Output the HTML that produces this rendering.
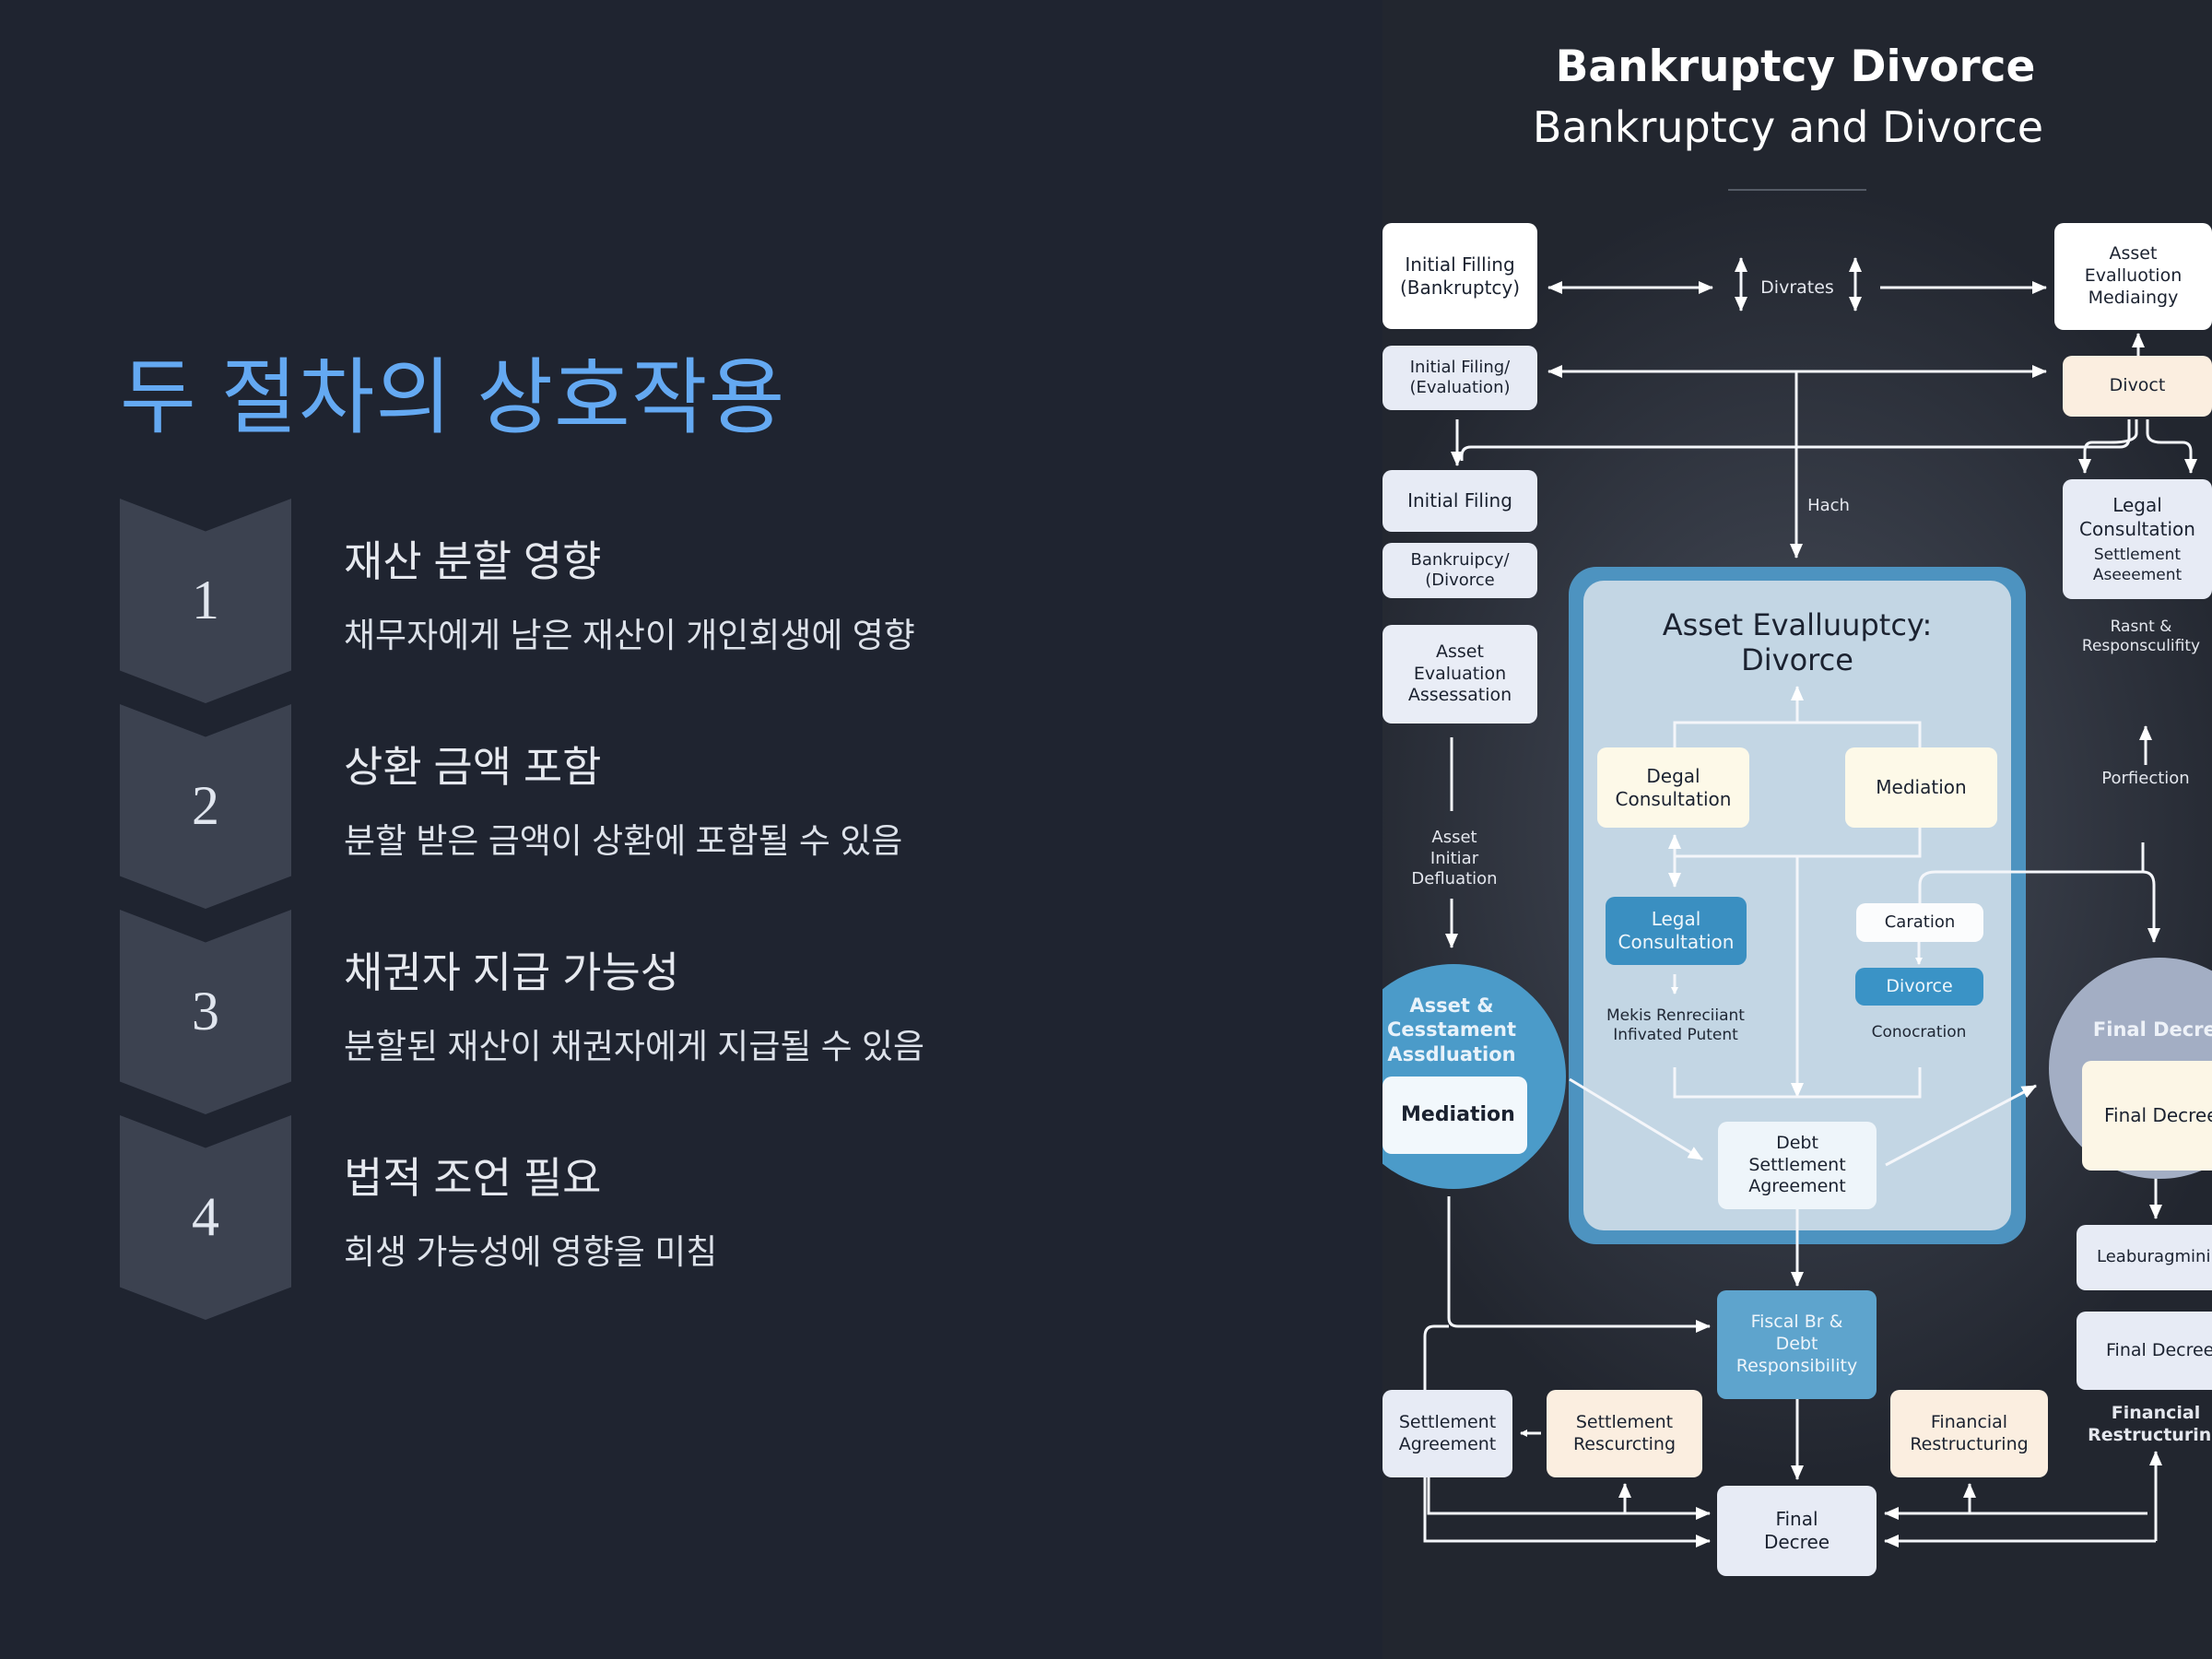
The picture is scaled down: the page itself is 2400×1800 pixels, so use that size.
<!DOCTYPE html>
<html><head><meta charset="utf-8"><style>
*{margin:0;padding:0;box-sizing:border-box}
body{width:2400px;height:1800px;overflow:hidden;background:#1f2430;position:relative;font-family:"Liberation Sans","Noto Sans CJK KR",sans-serif}
.title{position:absolute;left:130px;top:358px;font-size:90px;color:#64a9f2;font-family:"Liberation Sans","Noto Sans CJK KR",sans-serif;letter-spacing:1px;white-space:nowrap}
.chev{position:absolute;left:130px;width:186px;height:222px;background:#3c4250;clip-path:polygon(0 0,50% 16%,100% 0,100% 84%,50% 100%,0 84%)}
.num{position:absolute;left:130px;width:186px;text-align:center;font-family:"Liberation Serif",serif;font-size:60px;color:#e1e6ef}
.h{position:absolute;left:373px;font-size:46px;color:#e6e9ef;white-space:nowrap}
.s{position:absolute;left:373px;font-size:37px;color:#dde2ea;white-space:nowrap}
#right{position:absolute;left:1500px;top:0;width:900px;height:1800px;overflow:hidden;background:radial-gradient(ellipse 520px 700px at 450px 900px,#4b505b 0%,#353a45 50%,#22262f 100%)}
.n{position:absolute;display:flex;align-items:center;justify-content:center;text-align:center;border-radius:10px;font-size:20px;line-height:1.25;color:#1b2230;font-family:"DejaVu Sans","Liberation Sans",sans-serif}
.t{position:absolute;text-align:center;font-size:18px;line-height:1.25;color:#e4e7ee;font-family:"DejaVu Sans","Liberation Sans",sans-serif;transform:translateX(-50%);white-space:nowrap}
</style></head><body>
<div class="title">두 절차의 상호작용</div>

<div class="chev" style="top:541px"></div><div class="num" style="top:617px">1</div>
<div class="h" style="top:573px">재산 분할 영향</div><div class="s" style="top:659px">채무자에게 남은 재산이 개인회생에 영향</div>
<div class="chev" style="top:764px"></div><div class="num" style="top:840px">2</div>
<div class="h" style="top:796px">상환 금액 포함</div><div class="s" style="top:882px">분할 받은 금액이 상환에 포함될 수 있음</div>
<div class="chev" style="top:987px"></div><div class="num" style="top:1063px">3</div>
<div class="h" style="top:1019px">채권자 지급 가능성</div><div class="s" style="top:1105px">분할된 재산이 채권자에게 지급될 수 있음</div>
<div class="chev" style="top:1210px"></div><div class="num" style="top:1286px">4</div>
<div class="h" style="top:1242px">법적 조언 필요</div><div class="s" style="top:1328px">회생 가능성에 영향을 미침</div>

<div id="right">
<div class="t" style="left:448px;top:44px;font-size:47px;font-weight:bold;color:#fff;font-family:'DejaVu Sans',sans-serif">Bankruptcy Divorce</div>
<div class="t" style="left:440px;top:110px;font-size:46px;color:#fff">Bankruptcy and Divorce</div>
<div style="position:absolute;left:375px;top:205px;width:150px;height:2px;background:#555b66"></div>

<div style="position:absolute;left:202px;top:615px;width:496px;height:735px;border-radius:30px;background:#4d93c0"></div>
<div style="position:absolute;left:218px;top:630px;width:464px;height:705px;border-radius:22px;background:#c3d6e4"></div>

<svg width="900" height="1800" style="position:absolute;left:0;top:0">
<defs><marker id="a" markerWidth="8" markerHeight="8" refX="7" refY="4" orient="auto-start-reverse" markerUnits="userSpaceOnUse"><path d="M0,0 L8,4 L0,8z" fill="#fff"/></marker>
<marker id="b" markerWidth="16" markerHeight="14" refX="15" refY="7" orient="auto-start-reverse" markerUnits="userSpaceOnUse"><path d="M0,0 L16,7 L0,14z" fill="#fff"/></marker></defs>
<g stroke="#f4f6fa" stroke-width="3" fill="none">
<path d="M180,312 H358" marker-start="url(#b)" marker-end="url(#b)"/>
<path d="M389,280 V337" marker-start="url(#b)" marker-end="url(#b)"/>
<path d="M513,280 V337" marker-start="url(#b)" marker-end="url(#b)"/>
<path d="M540,312 H720" marker-end="url(#b)"/>
<path d="M180,403 H720" marker-start="url(#b)" marker-end="url(#b)"/>
<path d="M449,403 V605" marker-end="url(#b)"/>
<path d="M820,386 V362" marker-end="url(#b)"/>
<path d="M81,455 V505" marker-end="url(#b)"/>
<path d="M86,500 V495 Q86,485 96,485 H800 Q810,485 810,475 V455"/>
<path d="M818,455 V470 Q818,480 790,480 H770 Q762,480 762,490 V513" marker-end="url(#b)"/>
<path d="M830,455 V470 Q830,480 845,480 H868 Q877,480 877,490 V513" marker-end="url(#b)"/>
<path d="M75,800 V880"/>
<path d="M75,975 V1028" marker-end="url(#b)"/>
<path d="M317,811 V784 H583 V811"/>
<path d="M450,784 V745" marker-end="url(#b)"/>
<path d="M317,906 V962" marker-start="url(#b)" marker-end="url(#b)"/>
<path d="M317,929 H583 V898"/>
<path d="M450,929 V1190" marker-end="url(#b)"/>
<path d="M583,1000 V960 Q583,946 600,946 H825 Q837,946 837,960 V1022" marker-end="url(#b)"/>
<path d="M825,946 V914"/>
<path d="M828,830 V788" marker-end="url(#b)"/>
<path d="M317,1057 V1078" marker-end="url(#a)"/>
<path d="M582,1022 V1046" marker-end="url(#a)"/>
<path d="M317,1158 V1190 H583 V1158"/>
<path d="M203,1171 L347,1258" marker-end="url(#b)"/>
<path d="M546,1264 L709,1178" marker-end="url(#b)"/>
<path d="M450,1312 V1395" marker-end="url(#b)"/>
<path d="M450,1518 V1605" marker-end="url(#b)"/>
<path d="M72,1298 V1430 Q72,1439 82,1439 H355" marker-end="url(#b)"/>
<path d="M46,1508 V1450 Q46,1439 56,1439 H72"/>
<path d="M172,1555 H150" marker-end="url(#a)"/>
<path d="M50,1603 V1642 H355" marker-end="url(#b)"/>
<path d="M46,1603 V1672 H355" marker-end="url(#b)"/>
<path d="M263,1642 V1610" marker-end="url(#b)"/>
<path d="M830,1642 H545" marker-end="url(#b)"/>
<path d="M839,1672 H545" marker-end="url(#b)"/>
<path d="M839,1672 V1575" marker-end="url(#b)"/>
<path d="M637,1642 V1610" marker-end="url(#b)"/>
<path d="M839,1277 V1322" marker-end="url(#b)"/>
</g></svg>

<div style="position:absolute;left:-45px;top:1046px;width:244px;height:244px;border-radius:50%;background:#4b9bc9"></div>
<div style="position:absolute;left:723px;top:1039px;width:240px;height:240px;border-radius:50%;background:#a3aec4"></div>

<div class="n" style="left:0;top:242px;width:168px;height:115px;background:#fff">Initial Filling<br>(Bankruptcy)</div>
<div class="n" style="left:0;top:375px;width:168px;height:70px;background:#e7ebf5;font-size:18px">Initial Filing/<br>(Evaluation)</div>
<div class="n" style="left:0;top:510px;width:168px;height:67px;background:#e7ebf5">Initial Filing</div>
<div class="n" style="left:0;top:589px;width:168px;height:60px;background:#e7ebf5;font-size:18px">Bankruipcy/<br>(Divorce</div>
<div class="n" style="left:0;top:678px;width:168px;height:107px;background:#e9edf6;font-size:19px">Asset<br>Evaluation<br>Assessation</div>
<div class="t" style="left:78px;top:898px">Asset<br>Initiar<br>Defluation</div>
<div class="t" style="left:75px;top:1078px;font-size:21px;font-weight:bold;color:#e8f2fa">Asset &amp;<br>Cesstament<br>Assdluation</div>
<div class="n" style="left:0;top:1168px;width:157px;height:84px;background:#f2f8fc;font-size:22px;font-weight:bold;justify-content:flex-start;padding-left:20px">Mediation</div>

<div class="t" style="left:450px;top:301px;font-size:19px">Divrates</div>
<div class="t" style="left:484px;top:538px;font-size:18px">Hach</div>

<div class="n" style="left:729px;top:242px;width:171px;height:116px;background:#fff;font-size:19px">Asset<br>Evalluotion<br>Mediaingy</div>
<div class="n" style="left:738px;top:386px;width:162px;height:66px;background:#fbeee0;font-size:19px">Divoct</div>
<div class="n" style="left:738px;top:520px;width:162px;height:130px;background:#e7ebf5;font-size:20px;line-height:1.3"><div>Legal<br>Consultation<div style="font-size:17px;margin-top:4px">Settlement<br>Aseeement</div></div></div>
<div class="t" style="left:823px;top:670px;font-size:17px">Rasnt &amp;<br>Responsculifity</div>
<div class="t" style="left:828px;top:834px;font-size:18px">Porfiection</div>
<div class="t" style="left:845px;top:1104px;font-size:21px;font-weight:bold;color:#eef2f8">Final Decree</div>
<div class="n" style="left:759px;top:1151px;width:160px;height:119px;background:#fcf6e6;font-size:20px;justify-content:flex-start;padding-left:24px">Final Decree</div>
<div class="n" style="left:753px;top:1329px;width:160px;height:71px;background:#e7ebf5;font-size:18px;justify-content:flex-start;padding-left:22px">Leaburagminility</div>
<div class="n" style="left:753px;top:1423px;width:160px;height:85px;background:#e7ebf5;font-size:19px;justify-content:flex-start;padding-left:32px">Final Decree</div>
<div class="t" style="left:839px;top:1522px;font-size:19px;font-weight:bold">Financial<br>Restructuring</div>

<div class="t" style="left:450px;top:660px;font-size:32px;color:#1b2230;line-height:1.18">Asset Evalluuptcy:<br>Divorce</div>
<div class="n" style="left:233px;top:811px;width:165px;height:87px;background:#fdf9e8;font-size:20px">Degal<br>Consultation</div>
<div class="n" style="left:502px;top:811px;width:165px;height:87px;background:#fdf9e8;font-size:20px">Mediation</div>
<div class="n" style="left:242px;top:973px;width:153px;height:74px;background:#3a8fc1;color:#eef6fb;font-size:20px">Legal<br>Consultation</div>
<div class="n" style="left:514px;top:980px;width:138px;height:42px;background:#fbfcfd;font-size:18px">Caration</div>
<div class="n" style="left:513px;top:1050px;width:139px;height:41px;background:#3a93c6;color:#eef6fb;font-size:19px">Divorce</div>
<div class="t" style="left:318px;top:1092px;font-size:17px;color:#1f2734">Mekis Renreciiant<br>Infivated Putent</div>
<div class="t" style="left:582px;top:1110px;font-size:17px;color:#1f2734">Conocration</div>
<div class="n" style="left:364px;top:1217px;width:172px;height:95px;background:#eef5fa;font-size:19px">Debt<br>Settlement<br>Agreement</div>
<div class="n" style="left:363px;top:1400px;width:173px;height:118px;background:#5ea4cd;color:#eef5fb;font-size:19px">Fiscal Br &amp;<br>Debt<br>Responsibility</div>
<div class="n" style="left:0;top:1508px;width:141px;height:95px;background:#e7ebf5;font-size:19px">Settlement<br>Agreement</div>
<div class="n" style="left:178px;top:1508px;width:169px;height:95px;background:#fbeee0;font-size:19px">Settlement<br>Rescurcting</div>
<div class="n" style="left:551px;top:1508px;width:171px;height:95px;background:#fbeee0;font-size:19px">Financial<br>Restructuring</div>
<div class="n" style="left:363px;top:1612px;width:173px;height:98px;background:#e7ebf5;font-size:20px">Final<br>Decree</div>
</div>
</body></html>
